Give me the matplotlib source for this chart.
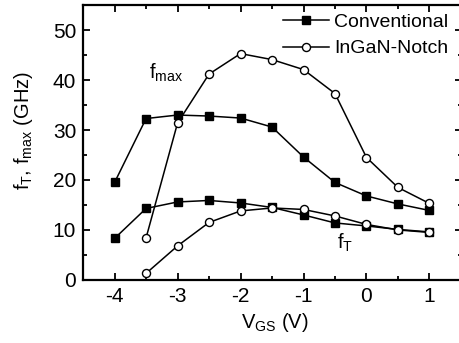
import matplotlib
matplotlib.use("Agg")
import matplotlib.pyplot as plt
from matplotlib.ticker import MultipleLocator

plt.rcParams["font.family"] = ["Liberation Sans", "DejaVu Sans"]
plt.rcParams["mathtext.default"] = "regular"
plt.rcParams["axes.unicode_minus"] = False

vgs_conv = [-4, -3.5, -3, -2.5, -2, -1.5, -1, -0.5, 0, 0.5, 1]
fmax_conv = [19.5, 32.3, 33.0, 32.8, 32.4, 30.6, 24.6, 19.5, 16.8, 15.2, 13.9]
ft_conv = [8.3, 14.3, 15.6, 15.9, 15.4, 14.5, 13.0, 11.4, 10.8, 10.1, 9.6]

vgs_notch = [-3.5, -3, -2.5, -2, -1.5, -1, -0.5, 0, 0.5, 1]
fmax_notch = [8.4, 31.4, 41.2, 45.3, 44.1, 42.1, 37.3, 24.5, 18.5, 15.3]
ft_notch = [1.3, 6.8, 11.5, 13.8, 14.4, 14.1, 12.8, 11.1, 10.0, 9.5]

fig = plt.figure(figsize=(4.59, 3.43), dpi=100)
ax = fig.add_axes([0.181, 0.184, 0.826, 0.801])

sq = dict(color="black", marker="s", markersize=5.2, linewidth=1.1,
          markerfacecolor="black", markeredgecolor="black")
ci = dict(color="black", marker="o", markersize=5.8, linewidth=1.1,
          markerfacecolor="white", markeredgecolor="black", markeredgewidth=1.0)

ax.plot(vgs_conv, fmax_conv, label="Conventional", **sq)
ax.plot(vgs_notch, fmax_notch, label="InGaN-Notch", **ci)
ax.plot(vgs_conv, ft_conv, **sq)
ax.plot(vgs_notch, ft_notch, **ci)

ax.set_xlim(-4.5, 1.52)
ax.set_ylim(0, 55)
ax.xaxis.set_major_locator(MultipleLocator(1))
ax.xaxis.set_minor_locator(MultipleLocator(0.5))
ax.yaxis.set_major_locator(MultipleLocator(10))
ax.yaxis.set_minor_locator(MultipleLocator(5))
ax.tick_params(which="both", direction="in", top=True, right=True,
               width=1.3, labelsize=15)
ax.tick_params(which="major", length=5, pad=5)
ax.tick_params(which="minor", length=3)
for s in ax.spines.values():
    s.set_linewidth(1.6)

ax.set_xlabel("V$_{GS}$ (V)", fontsize=14.5)
ax.xaxis.set_label_coords(0.507, -0.112)
ax.set_ylabel("f$_T$, f$_{max}$ (GHz)", fontsize=14.5)
ax.yaxis.set_label_coords(-0.127, 0.545)

ax.text(-3.45, 41.5, "f$_{max}$", fontsize=14.5, va="center", ha="left")
ax.text(-0.47, 7.4, "f$_T$", fontsize=14.5, va="center", ha="left")

ax.legend(loc="upper right", frameon=False, fontsize=14, handlelength=2.4,
          handletextpad=0.25, borderaxespad=0, borderpad=0, labelspacing=0.45,
          bbox_to_anchor=(0.963, 0.97))

fig.savefig("out.png", dpi=100)
